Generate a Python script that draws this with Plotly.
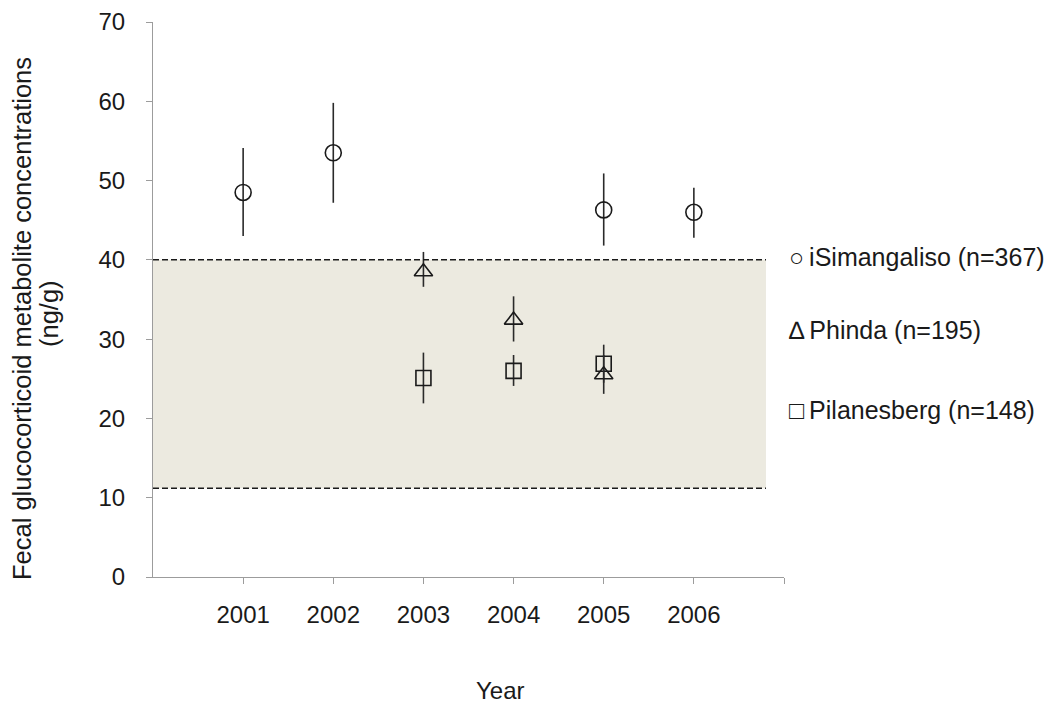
import plotly.graph_objects as go

# ---- data ----
isim_years = [2001, 2002, 2005, 2006]
isim_mean = [48.5, 53.5, 46.3, 46.0]
isim_upper = [54.1, 59.8, 50.9, 49.1]
isim_lower = [43.0, 47.2, 41.8, 42.8]

phinda_years = [2003, 2004, 2005]
phinda_mean = [38.5, 32.4, 25.5]
phinda_upper = [41.0, 35.4, 28.0]
phinda_lower = [36.6, 29.7, 23.1]

pila_years = [2003, 2004, 2005]
pila_mean = [25.1, 26.0, 26.9]
pila_upper = [28.3, 28.0, 29.3]
pila_lower = [21.9, 24.1, 24.5]

band_low = 11.2
band_high = 40.0

tick_years = [2001, 2002, 2003, 2004, 2005, 2006, 2007]
tick_labels = ["2001", "2002", "2003", "2004", "2005", "2006", ""]
y_ticks = [0, 10, 20, 30, 40, 50, 60, 70]

legend_labels = ["\u25cb\u2009iSimangaliso (n=367)", "\u2206\u2009Phinda (n=195)",
                 "\u25a1\u2009Pilanesberg (n=148)"]
legend_y = [40.4, 31.2, 21.1]

FONT = "Liberation Sans, Arial, sans-serif"
AXIS_GRAY = "#9c9c9c"
TXT = "#1a1a1a"

# figure geometry (page has an 8px body margin)
W, H = 1044, 696
L, T, R, B = 145, 14, 268, 127
PW, PH = W - L - R, H - T - B


def px(xp):  # page pixel x -> paper
    return (xp - 8 - L) / PW


def py(yp):  # page pixel y -> paper
    return 1 - (yp - 8 - T) / PH


def err(mean, upper, lower):
    return dict(
        type="data",
        symmetric=False,
        array=[u - m for u, m in zip(upper, mean)],
        arrayminus=[m - l for m, l in zip(mean, lower)],
        width=0,
        thickness=1.6,
        color="#2a2a2a",
    )


fig = go.Figure()


def add(xs, ys, up, lo, symbol, name, size):
    fig.add_trace(go.Scatter(
        x=xs, y=ys, mode="markers", name=name, showlegend=False,
        error_y=err(ys, up, lo),
        marker=dict(symbol=symbol, size=size, color="rgba(0,0,0,0)",
                    line=dict(color=TXT, width=1.6)),
    ))


add(isim_years, isim_mean, isim_upper, isim_lower, "circle", "iSimangaliso", 16)
add(pila_years, pila_mean, pila_upper, pila_lower, "square", "Pilanesberg", 15)
add(phinda_years, phinda_mean, phinda_upper, phinda_lower, "triangle-up", "Phinda", 16)

# shaded reference band and dashed limits
fig.add_shape(type="rect", xref="x", yref="y", x0=2000, x1=2006.8,
              y0=band_low, y1=band_high, fillcolor="#ECEAE0",
              line=dict(width=0), layer="below")
for yv in (band_low, band_high):
    fig.add_shape(type="line", xref="x", yref="y", x0=2000, x1=2006.8,
                  y0=yv, y1=yv, line=dict(color=TXT, width=1.5, dash="6px,3px"),
                  layer="above")

# legend as text
for lab, ly in zip(legend_labels, legend_y):
    fig.add_annotation(x=px(787), xref="paper", xanchor="left",
                       y=ly, yref="y", yanchor="middle", text=lab,
                       showarrow=False, font=dict(size=25, color=TXT, family=FONT))

# axis titles
fig.add_annotation(x=px(500), xref="paper", y=py(690), yref="paper",
                   xanchor="center", yanchor="middle", text="Year",
                   showarrow=False, font=dict(size=24, color=TXT, family=FONT))
fig.add_annotation(x=px(22), xref="paper", y=py(319), yref="paper",
                   xanchor="center", yanchor="middle", textangle=-90,
                   text="Fecal glucocorticoid metabolite concentrations",
                   showarrow=False, font=dict(size=25.5, color=TXT, family=FONT))
fig.add_annotation(x=px(49), xref="paper", y=py(314), yref="paper",
                   xanchor="center", yanchor="middle", textangle=-90,
                   text="(ng/g)",
                   showarrow=False, font=dict(size=25.5, color=TXT, family=FONT))

fig.update_layout(
    width=W, height=H,
    margin=dict(l=L, r=R, t=T, b=B, autoexpand=False),
    paper_bgcolor="white", plot_bgcolor="white",
    font=dict(family=FONT, size=24, color=TXT),
    showlegend=False,
)
fig.update_xaxes(range=[2000, 2007], tickvals=tick_years, ticktext=tick_labels,
                 automargin=False,
                 showgrid=False, zeroline=False, showline=True, linecolor=AXIS_GRAY,
                 linewidth=1.2, ticks="outside", ticklen=6, tickcolor=AXIS_GRAY,
                 tickwidth=1.2, ticklabelstandoff=10,
                 tickfont=dict(size=24, family=FONT, color=TXT))
fig.update_yaxes(range=[0, 70], tickvals=y_ticks, showgrid=False, zeroline=False,
                 automargin=False,
                 showline=True, linecolor=AXIS_GRAY, linewidth=1.2, ticks="outside",
                 ticklen=6, tickcolor=AXIS_GRAY, tickwidth=1.2, ticklabelstandoff=16,
                 tickfont=dict(size=24, family=FONT, color=TXT))

fig.write_html("out.html")
